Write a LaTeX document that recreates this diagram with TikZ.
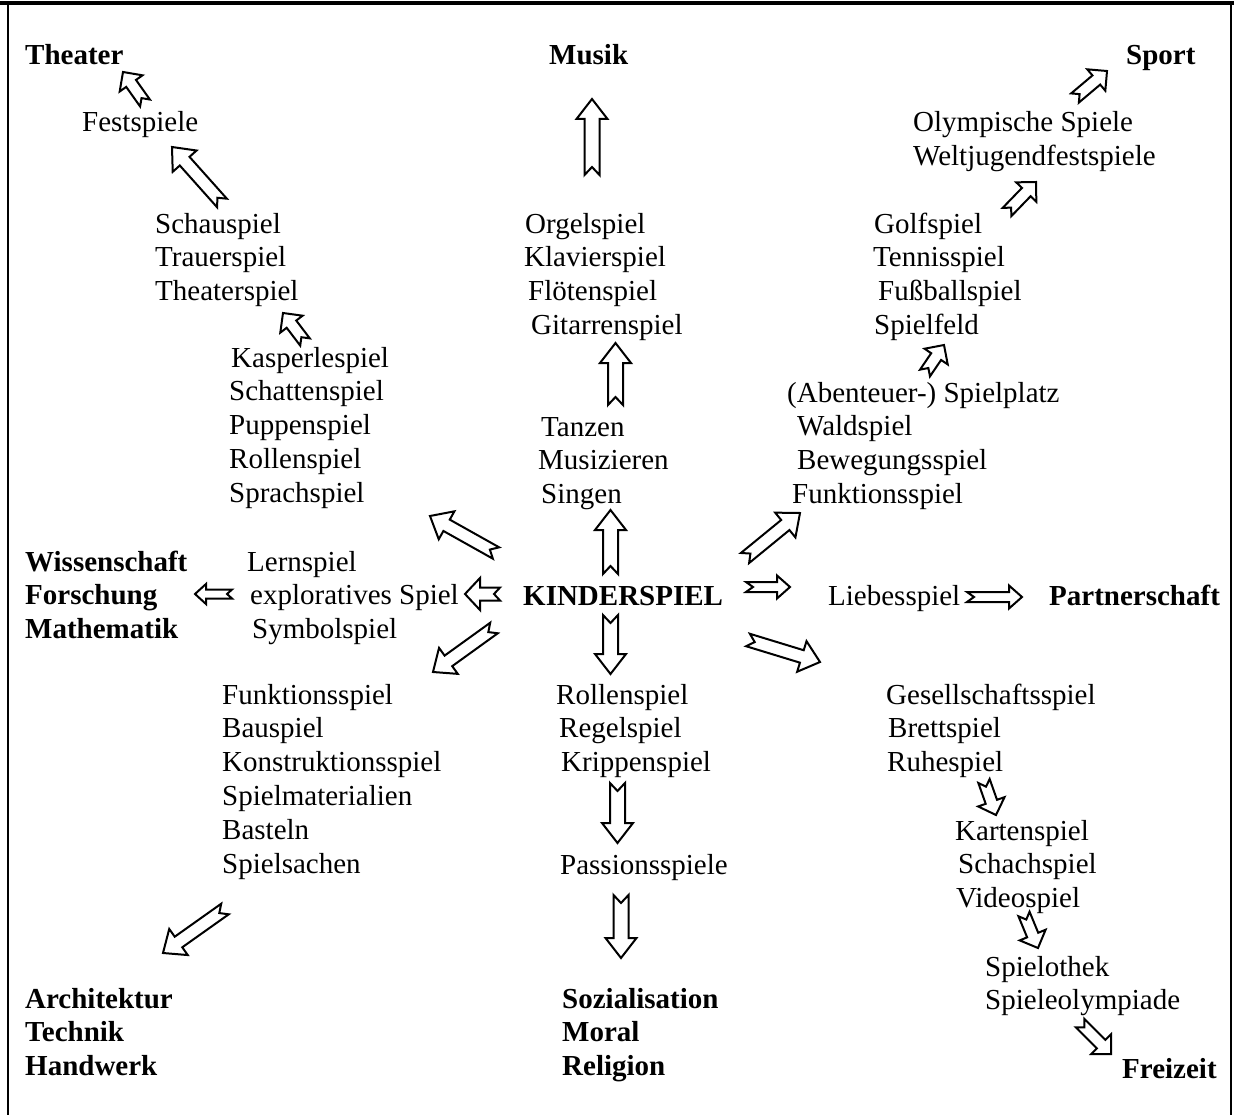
\documentclass[tikz,border=0pt]{standalone}
\usepackage{fontspec}
\setmainfont{Liberation Serif}
\usetikzlibrary{calc}

\newcommand\ls{33.8}% line step
\tikzset{
  word/.style={inner sep=0pt, anchor=base west, align=left,
    font=\fontsize{29}{33.8}\selectfont},
  goal/.style={word, font=\fontsize{29}{33.8}\selectfont\bfseries},
  blk/.style={draw=black, line width=2pt, fill=white, line join=miter},
}

% notched block arrow: tail, tip, shaft half width, head half width, head length, notch depth
\newcommand\notcharrow[6]{%
  \draw[blk] ($#1!#3!90:#2$) -- ($#2!#5!#1!#3!-90:#1$)
    -- ($#2!#5!#1!#4!-90:#1$) -- #2 -- ($#2!#5!#1!#4!90:#1$)
    -- ($#2!#5!#1!#3!90:#1$) -- ($#1!#3!-90:#2$) -- ($#1!#6!#2$) -- cycle;}
\newcommand\bigarr[2]{\notcharrow{#1}{#2}{7.5pt}{15.5pt}{20pt}{8pt}}
\newcommand\diagarr[2]{\notcharrow{#1}{#2}{6.5pt}{16pt}{19pt}{7pt}}
\newcommand\smallarr[2]{\notcharrow{#1}{#2}{6pt}{14pt}{14pt}{6pt}}
\newcommand\flatarr[2]{\notcharrow{#1}{#2}{5pt}{11.5pt}{13pt}{7pt}}

\begin{document}
\begin{tikzpicture}[x=1pt,y=-1pt]
  \useasboundingbox (0,0) rectangle (1234,1115);

% frame
  \draw[line width=2pt] (8,3) -- (8,1115);
  \draw[line width=2pt] (1231,3) -- (1231,1115);
  \draw[line width=3.5pt] (0,3) -- (1234,3);

% upper left (multi-line nodes sit on the baseline of their last line)
  \node[goal] (theater) at (25,65) {Theater};
  \node[word] (fest) at (82,132) {Festspiele};
  \node[word] (schau) at (155,{233+2*\ls}) {Schauspiel\\Trauerspiel\\Theaterspiel};
  \node[word] (kasper) at (229,{367+4*\ls}) {\hspace*{2pt}Kasperlespiel\\Schattenspiel\\Puppenspiel\\Rollenspiel\\Sprachspiel};

% upper middle
  \node[goal] (musik) at (549,65) {Musik};
  \node[word] (orgel) at (524,{233+3*\ls}) {\hspace*{1pt}Orgelspiel\\Klavierspiel\\\hspace*{4pt}Flötenspiel\\\hspace*{7pt}Gitarrenspiel};
  \node[word] (tanzen) at (538,{436+2*\ls}) {\hspace*{3pt}Tanzen\\Musizieren\\\hspace*{3pt}Singen};

% upper right
  \node[goal] (sport) at (1126,65) {Sport};
  \node[word] (olymp) at (913,{132+\ls}) {Olympische Spiele\\Weltjugendfestspiele};
  \node[word] (golf) at (873,{233+3*\ls}) {\hspace*{1pt}Golfspiel\\Tennisspiel\\\hspace*{5pt}Fußballspiel\\\hspace*{1pt}Spielfeld};
  \node[word] (platz) at (787,{402+3*\ls}) {(Abenteuer-) Spielplatz\\\hspace*{10pt}Waldspiel\\\hspace*{10pt}Bewegungsspiel\\\hspace*{5pt}Funktionsspiel};

% middle row
  \node[goal] (wissen) at (25,{571+2*\ls}) {Wissenschaft\\Forschung\\Mathematik};
  \node[word] (lern) at (247,{571+2*\ls}) {Lernspiel\\\hspace*{3pt}exploratives Spiel\\\hspace*{5pt}Symbolspiel};
  \node[goal] (kinder) at (523,605) {KINDERSPIEL};
  \node[word] (liebe) at (828,605) {Liebesspiel};
  \node[goal] (partner) at (1049,605) {Partnerschaft};

% lower half
  \node[word] (funktion) at (222,{704+5*\ls}) {Funktionsspiel\\Bauspiel\\Konstruktionsspiel\\Spielmaterialien\\Basteln\\Spielsachen};
  \node[word] (rollen) at (556,{704+2*\ls}) {Rollenspiel\\\hspace*{3pt}Regelspiel\\\hspace*{5pt}Krippenspiel};
  \node[word] (passion) at (560,874) {Passionsspiele};
  \node[goal] (sozial) at (562,{1008+2*\ls}) {Sozialisation\\Moral\\Religion};
  \node[goal] (archi) at (25,{1008+2*\ls}) {Architektur\\Technik\\Handwerk};
  \node[word] (gesell) at (886,{704+2*\ls}) {Gesellschaftsspiel\\\hspace*{2pt}Brettspiel\\\hspace*{1pt}Ruhespiel};
  \node[word] (karten) at (955,{840+2*\ls}) {Kartenspiel\\\hspace*{3pt}Schachspiel\\\hspace*{1pt}Videospiel};
  \node[word] (spielothek) at (985,{976+\ls}) {Spielothek\\Spieleolympiade};
  \node[goal] (freizeit) at (1122,1078) {Freizeit};

% vertical arrows
  \bigarr{(592,175)}{(592,99)}
  \bigarr{(615.5,405)}{(615.5,343)}
  \bigarr{(610.5,574)}{(610.5,510)}
  \bigarr{(610.5,615)}{(610.5,674)}
  \bigarr{(617.5,783)}{(617.5,843)}
  \bigarr{(621,895)}{(621,958)}

% diagonal arrows
  \diagarr{(496,553)}{(430,516)}
  \diagarr{(745,558)}{(800,513)}
  \diagarr{(494,628)}{(433,672)}
  \diagarr{(748,640)}{(820,662)}
  \diagarr{(222,203)}{(172,147)}
  \diagarr{(225,909)}{(163,953)}

% small steps
  \smallarr{(145,103)}{(123,72)}
  \smallarr{(305,342)}{(283,313)}
  \smallarr{(925,373)}{(944,345)}
  \smallarr{(1007,212)}{(1036,182)}
  \smallarr{(1075,98)}{(1107,71)}
  \smallarr{(984,781)}{(996,815)}
  \smallarr{(1024,914)}{(1038,948)}
  \smallarr{(1080,1023)}{(1111,1054)}

% sideways arrows
  \notcharrow{(500,594)}{(465,594)}{6.5pt}{16pt}{15pt}{6pt}
  \notcharrow{(232,594)}{(195,594)}{4.5pt}{10pt}{11pt}{5pt}
  \flatarr{(746,587)}{(790,587)}
  \flatarr{(967,597)}{(1022,597)}
\end{tikzpicture}
\end{document}
